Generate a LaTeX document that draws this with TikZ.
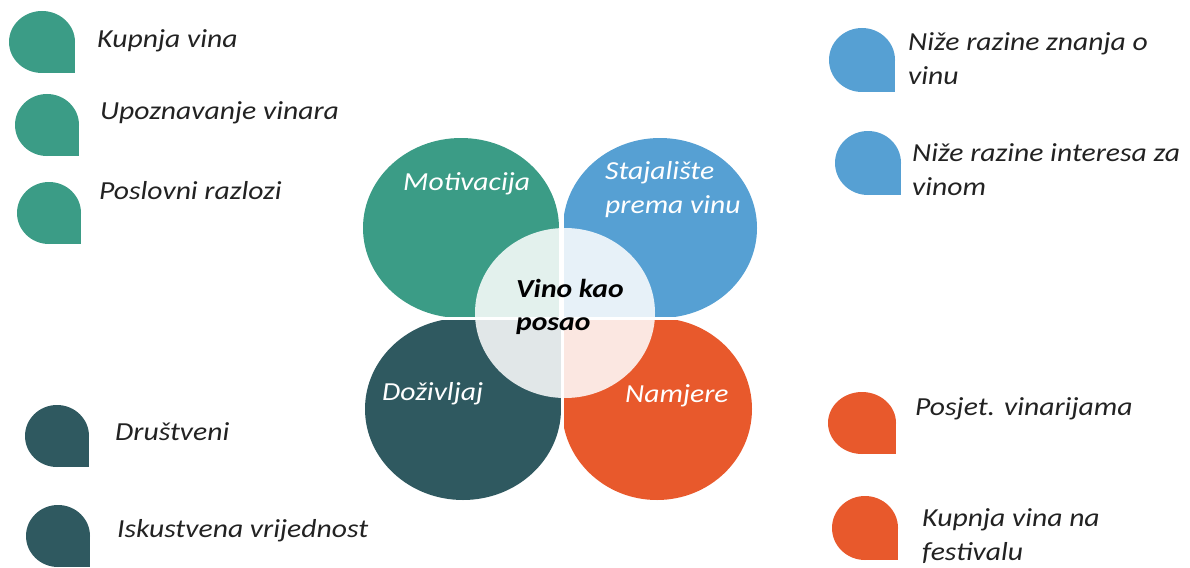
\documentclass[tikz,border=0pt]{standalone}
\usepackage{fontspec}
\setmainfont{Carlito}[FakeStretch=1.14]
\definecolor{cgreen}{HTML}{3B9C86}
\definecolor{cblue}{HTML}{56A0D3}
\definecolor{cdark}{HTML}{2F5960}
\definecolor{corange}{HTML}{E8592C}
\definecolor{ctext}{HTML}{222222}
\newcommand\tdrop[5]{% cx cy rx ry colour
  \fill[#5] (#1,#2) ellipse [x radius=#3pt, y radius=#4pt];
  \fill[#5] (#1,#2) rectangle ({#1+#3},{#2+#4});}
\tikzset{
  lbl/.style={anchor=base west, inner sep=0pt, text=ctext, align=left,
    font=\fontsize{26}{34}\selectfont\itshape},
  inlbl/.style={lbl, text=white},
  ctr/.style={lbl, text=black, font=\fontsize{26}{33}\selectfont\bfseries\itshape}
}
\begin{document}
\begin{tikzpicture}[x=1pt,y=-1pt]
\useasboundingbox (0,0) rectangle (1190,567);
% quadrant shapes
\tdrop{461}{228}{98}{90}{cgreen}
\fill[cblue] (660,228) ellipse [x radius=97pt, y radius=90pt];
\fill[cblue] (562,228) rectangle (660,318);
\fill[cdark] (463,409) ellipse [x radius=98pt, y radius=91pt];
\fill[cdark] (463,318) rectangle (562,409);
\fill[corange] (657,409) ellipse [x radius=95pt, y radius=91pt];
\fill[corange] (562,318) rectangle (657,409);
\draw[white, line width=3pt] (562,130) -- (562,505) (355,318) -- (760,318);
\fill[white, opacity=0.86] (565,313) ellipse [x radius=90pt, y radius=85pt];
% circle labels
\node[inlbl] (mot) at (403,190) {Motivacija};
\node[inlbl] (sta) at (605,213) {Stajalište\\prema vinu};
\node[inlbl] (dog) at (382,400) {Doživljaj};
\node[inlbl] (nam) at (625,402) {Namjere};
\node[ctr] (vino) at (516,330) {Vino kao\\posao};
% teardrops
\tdrop{42}{42}{33}{31}{cgreen}
\tdrop{47}{125}{32}{31}{cgreen}
\tdrop{49}{213}{32}{31}{cgreen}
\tdrop{57}{436}{32}{31}{cdark}
\tdrop{58}{536}{32}{31}{cdark}
\tdrop{862}{60}{33}{32}{cblue}
\tdrop{868}{163}{33}{32}{cblue}
\tdrop{862}{423}{34}{31}{corange}
\tdrop{865}{528}{33}{32}{corange}
% side labels
\node[lbl] (l1) at (97,48) {Kupnja vina};
\node[lbl] (l2) at (100,120) {Upoznavanje vinara};
\node[lbl] (l3) at (99,199) {Poslovni razlozi};
\node[lbl] (l4) at (115,440) {Društveni};
\node[lbl] (l5) at (117,537) {Iskustvena vrijednost};
\node[lbl] (r1) at (908,85) {Niže razine znanja o\\vinu};
\node[lbl] (r2) at (912,195) {Niže razine interesa za\\vinom};
\node[lbl] (r3) at (915,415) {Posjet. vinarijama};
\node[lbl] (r4) at (922,560) {Kupnja vina na\\festivalu};
\end{tikzpicture}
\end{document}
